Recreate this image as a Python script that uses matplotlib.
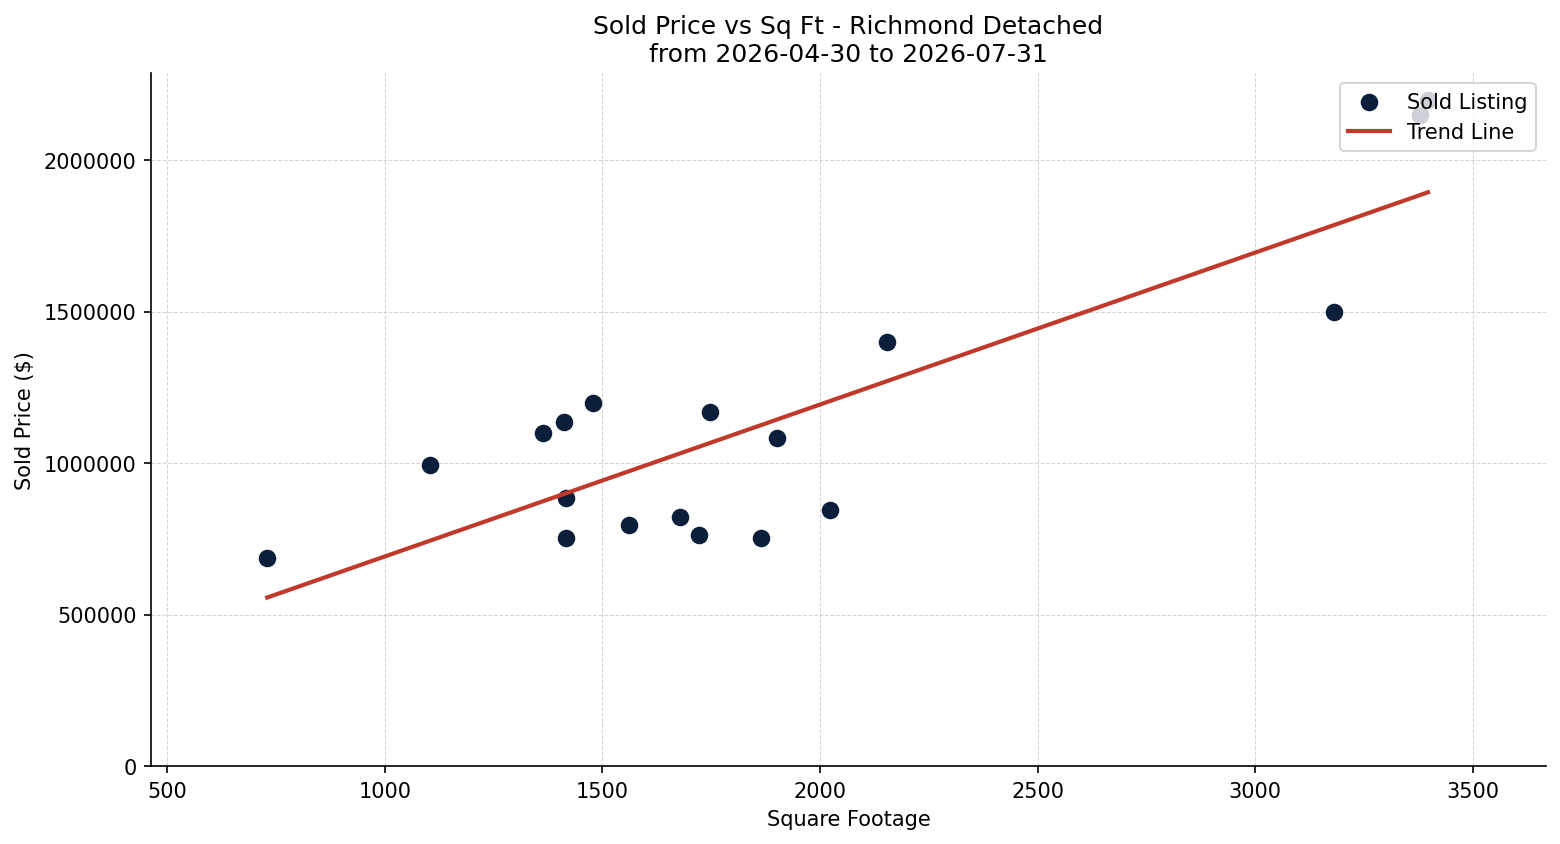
import numpy as np
import matplotlib
matplotlib.use("Agg")
import matplotlib.pyplot as plt

# sold listings
sqft = [730, 1104, 1364, 1412, 1479, 1417, 1417, 1561, 1678, 1722,
        1747, 1864, 1901, 2023, 2154, 3181, 3378, 3397]
price = [688000, 995000, 1100000, 1136000, 1199000, 886000, 751000, 797000,
         823000, 761000, 1169000, 754000, 1084000, 846000, 1400000, 1499000,
         2150000, 2197000]

title = "Sold Price vs Sq Ft - Richmond Detached\nfrom 2026-04-30 to 2026-07-31"

fig, ax = plt.subplots(figsize=(10.4, 5.633), dpi=150)
fig.subplots_adjust(left=0.0968, right=0.991, top=0.9124, bottom=0.0923)

ax.scatter(sqft, price, s=55, color="#0b1f3a", label="Sold Listing", zorder=2)

# linear trend line
m, b = np.polyfit(sqft, price, 1)
xs = np.array([min(sqft), max(sqft)])
ax.plot(xs, m * xs + b, color="#c0392b", linewidth=2, label="Trend Line", zorder=3)

ax.set_title(title, fontsize=12)
ax.set_xlabel("Square Footage")
ax.set_ylabel("Sold Price ($)")
ax.ticklabel_format(axis="y", style="plain")
ax.set_xlim(463, 3668)
ax.set_ylim(0, 2287000)
ax.grid(True, linestyle="--", linewidth=0.5, color="#cccccc", alpha=0.8)
ax.spines["top"].set_visible(False)
ax.spines["right"].set_visible(False)
ax.legend(loc="upper right")

fig.savefig("out.png", dpi=150)
